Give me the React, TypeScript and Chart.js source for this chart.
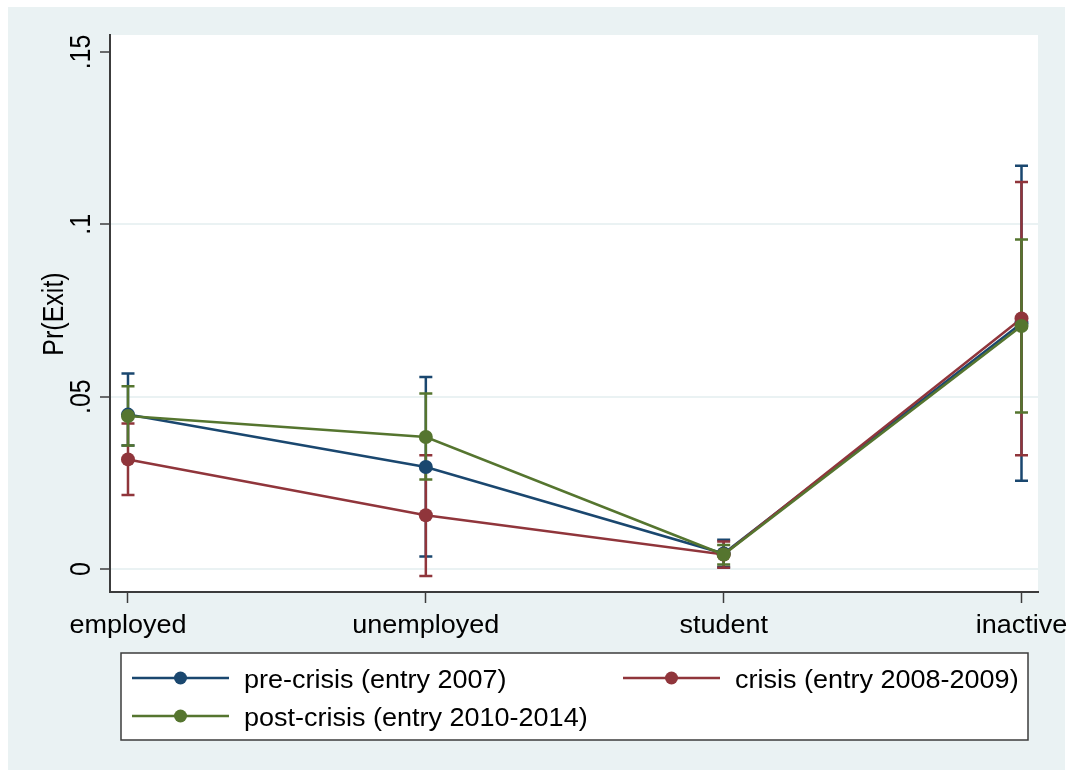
import React, { useEffect, useRef } from "react";
import { Chart, registerables } from "chart.js";

Chart.register(...registerables);

// Categories on the x axis
const categories = ["employed", "unemployed", "student", "inactive"];

// Y axis ticks and labels
const yTickValues = [0, 0.05, 0.1, 0.15];
const yTickLabels = ["0", ".05", ".1", ".15"];
const yTitle = "Pr(Exit)";

// Series names
const seriesNames = [
  "pre-crisis (entry 2007)",
  "crisis (entry 2008-2009)",
  "post-crisis (entry 2010-2014)",
];

// Predicted probabilities with 95% confidence limits
const preCrisis = [0.0448, 0.0296, 0.0045, 0.0713];
const preCrisisLo = [0.0358, 0.0036, 0.0006, 0.0256];
const preCrisisHi = [0.0567, 0.0557, 0.0085, 0.117];

const crisis = [0.0318, 0.0156, 0.0042, 0.0727];
const crisisLo = [0.0215, -0.002, 0.0004, 0.033];
const crisisHi = [0.0422, 0.033, 0.008, 0.1123];

const postCrisis = [0.0444, 0.0383, 0.0042, 0.0705];
const postCrisisLo = [0.0358, 0.026, 0.0013, 0.0454];
const postCrisisHi = [0.053, 0.0509, 0.007, 0.0956];

const seriesColors = ["#1A476F", "#90353B", "#55752F"];

const BG = "#EAF2F3";
const AXIS = "#3c3c3c";
const FONT = "25px 'Liberation Sans', Arial, sans-serif";

const CANVAS_W = 1061;
const CANVAS_H = 763;
const BG_W = 1057;

function drawText(
  ctx: CanvasRenderingContext2D,
  s: string,
  x: number,
  y: number,
  align: CanvasTextAlign,
  rotated: boolean,
  sx: number
) {
  ctx.save();
  ctx.translate(x, y);
  ctx.scale(sx, 1);
  if (rotated) ctx.rotate(-Math.PI / 2);
  ctx.font = FONT;
  ctx.fillStyle = "#000";
  ctx.textAlign = align;
  ctx.textBaseline = "alphabetic";
  ctx.fillText(s, 0, 0);
  ctx.restore();
}

export default function App() {
  const canvasRef = useRef<HTMLCanvasElement | null>(null);

  useEffect(() => {
    const canvas = canvasRef.current;
    if (!canvas) return;

    const values = [preCrisis, crisis, postCrisis];
    const lows = [preCrisisLo, crisisLo, postCrisisLo];
    const highs = [preCrisisHi, crisisHi, postCrisisHi];

    const backgroundPlugin = {
      id: "stataBackground",
      beforeDraw(chart: any) {
        const { ctx, chartArea } = chart;
        ctx.save();
        ctx.fillStyle = BG;
        ctx.fillRect(0, 0, BG_W, CANVAS_H);
        ctx.fillStyle = "#fff";
        ctx.fillRect(
          chartArea.left,
          chartArea.top,
          chartArea.right - chartArea.left,
          chartArea.bottom - chartArea.top
        );
        ctx.restore();
      },
    };

    // Confidence-interval caps, drawn beneath lines and markers
    const errorBarPlugin = {
      id: "ciCaps",
      beforeDatasetsDraw(chart: any) {
        const { ctx } = chart;
        const xs = chart.scales.x;
        const ys = chart.scales.y;
        ctx.save();
        ctx.lineWidth = 2.5;
        ctx.lineCap = "butt";
        for (let s = 0; s < values.length; s++) {
          ctx.strokeStyle = seriesColors[s];
          for (let i = 0; i < categories.length; i++) {
            const px = xs.getPixelForValue(i);
            const y1 = ys.getPixelForValue(lows[s][i]);
            const y2 = ys.getPixelForValue(highs[s][i]);
            ctx.beginPath();
            ctx.moveTo(px, y1);
            ctx.lineTo(px, y2);
            ctx.moveTo(px - 6.5, y1);
            ctx.lineTo(px + 6.5, y1);
            ctx.moveTo(px - 6.5, y2);
            ctx.lineTo(px + 6.5, y2);
            ctx.stroke();
          }
        }
        ctx.restore();
      },
    };

    const labelPlugin = {
      id: "stataLabels",
      afterDraw(chart: any) {
        const { ctx } = chart;
        const xs = chart.scales.x;
        const ys = chart.scales.y;

        // y tick labels (rotated)
        yTickValues.forEach((v, i) => {
          drawText(ctx, yTickLabels[i], 82, ys.getPixelForValue(v), "center", true, 1.2);
        });
        // y title
        drawText(ctx, yTitle, 55, 307, "center", true, 1.2);
        // x category labels
        categories.forEach((c, i) => {
          drawText(ctx, c, xs.getPixelForValue(i), 626, "center", false, 1.08);
        });

        // legend
        ctx.save();
        ctx.fillStyle = "#fff";
        ctx.fillRect(113, 646, 907, 87);
        ctx.strokeStyle = AXIS;
        ctx.lineWidth = 1.5;
        ctx.strokeRect(113, 646, 907, 87);
        ctx.restore();

        const slots = [
          { x0: 124, x1: 221, y: 671, tx: 236 },
          { x0: 615, x1: 712, y: 671, tx: 727 },
          { x0: 124, x1: 221, y: 709, tx: 236 },
        ];
        slots.forEach((sl, s) => {
          ctx.save();
          ctx.strokeStyle = seriesColors[s];
          ctx.lineWidth = 2.5;
          ctx.beginPath();
          ctx.moveTo(sl.x0, sl.y);
          ctx.lineTo(sl.x1, sl.y);
          ctx.stroke();
          ctx.fillStyle = seriesColors[s];
          ctx.beginPath();
          ctx.arc((sl.x0 + sl.x1) / 2, sl.y, 6.5, 0, Math.PI * 2);
          ctx.fill();
          ctx.restore();
          drawText(ctx, seriesNames[s], sl.tx, sl.y + 10, "left", false, 1.08);
        });
      },
    };

    const datasets = values.map((vals, s) => ({
      label: seriesNames[s],
      data: vals.map((v, i) => ({ x: i, y: v })),
      borderColor: seriesColors[s],
      backgroundColor: seriesColors[s],
      borderWidth: 2.5,
      pointRadius: 7,
      pointBorderWidth: 0,
      pointBackgroundColor: seriesColors[s],
      showLine: true,
      fill: false,
      tension: 0,
      order: values.length - 1 - s,
    }));

    const chart = new Chart(canvas, {
      type: "line",
      data: { datasets },
      options: {
        animation: false,
        responsive: false,
        devicePixelRatio: 1,
        layout: { padding: { left: 0, top: 28, right: 31, bottom: 0 } },
        plugins: {
          legend: { display: false },
          tooltip: { enabled: false },
        },
        scales: {
          x: {
            type: "linear",
            min: -0.0604,
            max: 3.0554,
            afterBuildTicks: (scale: any) => {
              scale.ticks = categories.map((_, i) => ({ value: i }));
            },
            afterFit: (scale: any) => {
              scale.height = CANVAS_H - 585;
            },
            ticks: { display: false },
            grid: {
              drawOnChartArea: false,
              drawTicks: true,
              tickLength: 11,
              tickColor: AXIS,
              tickWidth: 1.5,
            },
            border: { display: true, color: AXIS, width: 2 },
          },
          y: {
            type: "linear",
            min: -0.00667,
            max: 0.15493,
            afterBuildTicks: (scale: any) => {
              scale.ticks = yTickValues.map((v) => ({ value: v }));
            },
            afterFit: (scale: any) => {
              scale.width = 102;
            },
            ticks: { display: false },
            grid: {
              color: (c: any) =>
                c.tick && c.tick.value >= 0.15 ? "rgba(0,0,0,0)" : BG,
              lineWidth: 2,
              drawTicks: true,
              tickLength: 10,
              tickColor: AXIS,
              tickWidth: 1.5,
            },
            border: { display: true, color: AXIS, width: 2 },
          },
        },
      },
      plugins: [backgroundPlugin, errorBarPlugin, labelPlugin],
    });

    return () => chart.destroy();
  }, []);

  return (
    <div style={{ position: "fixed", left: 8, top: 7, width: CANVAS_W, height: CANVAS_H }}>
      <canvas
        ref={canvasRef}
        width={CANVAS_W}
        height={CANVAS_H}
        style={{ width: CANVAS_W, height: CANVAS_H, display: "block" }}
      />
    </div>
  );
}
